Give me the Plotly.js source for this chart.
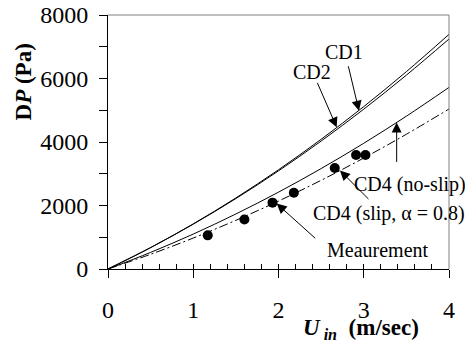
<!DOCTYPE html>
<html>
<head>
<meta charset="utf-8">
<script src="https://cdn.plot.ly/plotly-3.0.1.min.js"></script>
<style>html,body{margin:0;padding:0;background:#fff;}#chart{width:465px;height:349px;}</style>
</head>
<body>
<div id="chart"></div>
<script>
// Inlet velocity (m/sec) for the model curves
const uCurve = [0, 0.5, 1, 1.5, 2, 2.5, 3, 3.5, 4];
// Pressure drop (Pa)
const cd1 = [0, 675, 1421, 2238, 3126, 4085, 5115, 6216, 7390];
const cd2 = [0, 673, 1412, 2218, 3090, 4029, 5034, 6106, 7244];
const cd4NoSlip = [0, 523, 1100, 1733, 2420, 3163, 3960, 4813, 5720];
const cd4Slip = [0, 464, 975, 1534, 2140, 2794, 3495, 4244, 5040];
// Measurements
const uMeas = [1.17, 1.6, 1.93, 2.18, 2.66, 2.91, 3.02];
const dpMeas = [1060, 1560, 2090, 2400, 3180, 3590, 3590];
// Tick labels
const xTicks = [0, 1, 2, 3, 4];
const yTicks = [0, 2000, 4000, 6000, 8000];

const FONT = 'Liberation Serif';
const line = (x, y, dash) => ({
  x: x, y: y, type: 'scatter', mode: 'lines', xaxis: 'x', yaxis: 'y',
  line: {color: '#000', width: 1, dash: dash || 'solid', shape: 'spline'},
  hoverinfo: 'skip', showlegend: false
});

const traces = [
  line(uCurve, cd1),
  line(uCurve, cd2),
  line(uCurve, cd4NoSlip),
  line(uCurve, cd4Slip, '9px,3px,2px,3px'),
  {x: uMeas, y: dpMeas, type: 'scatter', mode: 'markers', xaxis: 'x2', yaxis: 'y',
   marker: {color: '#000', size: 10}, hoverinfo: 'skip', showlegend: false}
];

const txt = (x, y, t) => ({x: x, y: y, xref: 'x', yref: 'y', text: t, showarrow: false,
  font: {family: FONT, size: 20, color: '#000'}, xanchor: 'center', yanchor: 'middle'});
const arr = (x, y, ax, ay) => ({x: x, y: y, xref: 'x', yref: 'y', text: '', showarrow: true,
  ax: ax, ay: ay, arrowhead: 2, arrowsize: 2, arrowwidth: 1, arrowcolor: '#000', standoff: 0, startstandoff: 0});

const layout = {
  width: 465, height: 349,
  margin: {l: 108, r: 15.5, t: 14.5, b: 80},
  paper_bgcolor: '#fff', plot_bgcolor: '#fff',
  font: {family: FONT, color: '#000'},
  xaxis: {
    range: [0, 4], tickvals: xTicks, ticktext: xTicks.map(String),
    ticks: 'outside', ticklen: 8, tickwidth: 1, tickcolor: '#000',
    showline: true, linecolor: '#000', linewidth: 1,
    showgrid: false, zeroline: false, fixedrange: true,
    tickfont: {family: FONT, size: 24, color: '#000'},
    ticklabelstandoff: 11
  },
  xaxis2: {
    range: [0, 4], overlaying: 'x', anchor: 'y', side: 'bottom',
    ticks: 'inside', tick0: 0, dtick: 0.2, ticklen: 5, tickwidth: 1, tickcolor: '#000',
    showticklabels: false, showline: false, showgrid: false, zeroline: false, fixedrange: true
  },
  yaxis: {
    range: [0, 8000], tickvals: yTicks, ticktext: yTicks.map(String),
    ticks: 'outside', ticklen: 8, tickwidth: 1, tickcolor: '#000',
    minor: {dtick: 1000, tick0: 0, ticks: 'outside', ticklen: 8, tickwidth: 1, tickcolor: '#000', showgrid: false},
    showline: true, linecolor: '#000', linewidth: 1,
    showgrid: false, zeroline: false, fixedrange: true,
    tickfont: {family: FONT, size: 24, color: '#000'},
    ticklabelstandoff: 6
  },
  shapes: [
    {type: 'line', xref: 'paper', yref: 'paper', x0: 0, x1: 1, y0: 1, y1: 1, line: {color: '#808080', width: 1}},
    {type: 'line', xref: 'paper', yref: 'paper', x0: 1, x1: 1, y0: 0, y1: 1, line: {color: '#808080', width: 1}}
  ],
  annotations: [
    txt(2.768, 6834, 'CD1'),
    txt(2.393, 6207, 'CD2'),
    txt(3.545, 2665, 'CD4 (no-slip)'),
    txt(3.296, 1755, 'CD4 (slip, \u03b1 = 0.8)'),
    txt(3.167, 596, 'Meaurement'),
    arr(2.944, 4984, -11, -46),
    arr(2.683, 4461, -20, -46),
    arr(3.386, 4618, 0, 41),
    arr(2.721, 3103, 30, 30),
    arr(1.979, 2060, 40, 36),
    {xref: 'paper', yref: 'paper', x: (361 - 108) / 341.5, y: (269 - 329) / 254.5,
     text: '<b><i>U</i></b><sub><b><i> in</i></b></sub><b>  (m/sec)</b>', showarrow: false,
     font: {family: FONT, size: 23, color: '#000'}, xanchor: 'center', yanchor: 'middle'},
    {xref: 'paper', yref: 'paper', x: (23 - 108) / 341.5, y: (269 - 82) / 254.5,
     text: '<b>D<i>P</i> (Pa)</b>', showarrow: false, textangle: -90,
     font: {family: FONT, size: 23, color: '#000'}, xanchor: 'center', yanchor: 'middle'}
  ]
};

Plotly.newPlot('chart', traces, layout, {staticPlot: true, displayModeBar: false});
</script>
</body>
</html>
